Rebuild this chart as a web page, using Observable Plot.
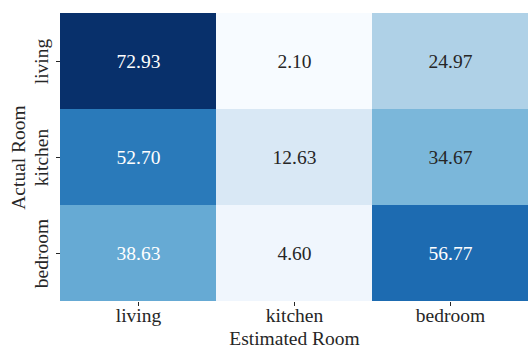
<!DOCTYPE html>
<html>
<head>
<meta charset="utf-8">
<script src="https://cdn.jsdelivr.net/npm/d3@7"></script>
<script src="https://cdn.jsdelivr.net/npm/@observablehq/plot@0.6"></script>
<style>
  html, body { margin: 0; padding: 0; background: #fff; }
  #chart svg { display: block; font-family: "Liberation Serif", serif !important; }
  #chart svg text { font-family: "Liberation Serif", serif !important; }
</style>
</head>
<body>
<div id="chart"></div>
<script>
const estimatedRooms = ["living", "kitchen", "bedroom"];
const actualRooms = ["living", "kitchen", "bedroom"];
const rowLiving = [72.93, 2.10, 24.97];
const rowKitchen = [52.70, 12.63, 34.67];
const rowBedroom = [38.63, 4.60, 56.77];
const rows = [rowLiving, rowKitchen, rowBedroom];

const data = [];
actualRooms.forEach((a, i) => {
  estimatedRooms.forEach((e, j) => {
    data.push({actual: a, estimated: e, value: rows[i][j]});
  });
});

// matplotlib "Blues" (linear segmented)
const bluesStops = ["#f7fbff","#deebf7","#c6dbef","#9ecae1","#6baed6","#4292c6","#2171b5","#08519c","#08306b"];
const blues = d3.piecewise(d3.interpolateRgb, bluesStops);
const vals = data.map(d => d.value);
const vmin = d3.min(vals), vmax = d3.max(vals);

function relLum(c) {
  const col = d3.rgb(c);
  const f = v => { v /= 255; return v <= 0.03928 ? v / 12.92 : Math.pow((v + 0.055) / 1.055, 2.4); };
  return 0.2126 * f(col.r) + 0.7152 * f(col.g) + 0.0722 * f(col.b);
}
const textColor = d => relLum(blues((d.value - vmin) / (vmax - vmin))) > 0.408 ? "#262626" : "#ffffff";
const FONT = "Liberation Serif, serif";

const chart = Plot.plot({
  width: 528,
  height: 347,
  marginLeft: 60,
  marginRight: 0,
  marginTop: 12,
  marginBottom: 45,
  style: {fontFamily: FONT, fontSize: "19.5px", color: "#262626", background: "#fff"},
  x: {domain: estimatedRooms, padding: 0},
  y: {domain: actualRooms, padding: 0},
  color: {type: "linear", domain: [vmin, vmax], interpolate: () => blues},
  marks: [
    Plot.cell(data, {x: "estimated", y: "actual", fill: "value", inset: 0}),
    Plot.text(data, {x: "estimated", y: "actual", text: d => d.value.toFixed(2), fill: textColor, fontSize: 19.5, fontFamily: FONT}),
    Plot.axisX({tickSize: 4, tickPadding: 2, label: "Estimated Room", labelAnchor: "center", labelOffset: 42, fontSize: 19.5, fontFamily: FONT, stroke: "#262626"}),
    Plot.axisY({tickSize: 4, tickPadding: 9, tickRotate: -90, label: "Actual Room", labelAnchor: "center", labelOffset: 49, fontSize: 19.5, fontFamily: FONT, stroke: "#262626"})
  ]
});
document.getElementById("chart").appendChild(chart);
</script>
</body>
</html>
